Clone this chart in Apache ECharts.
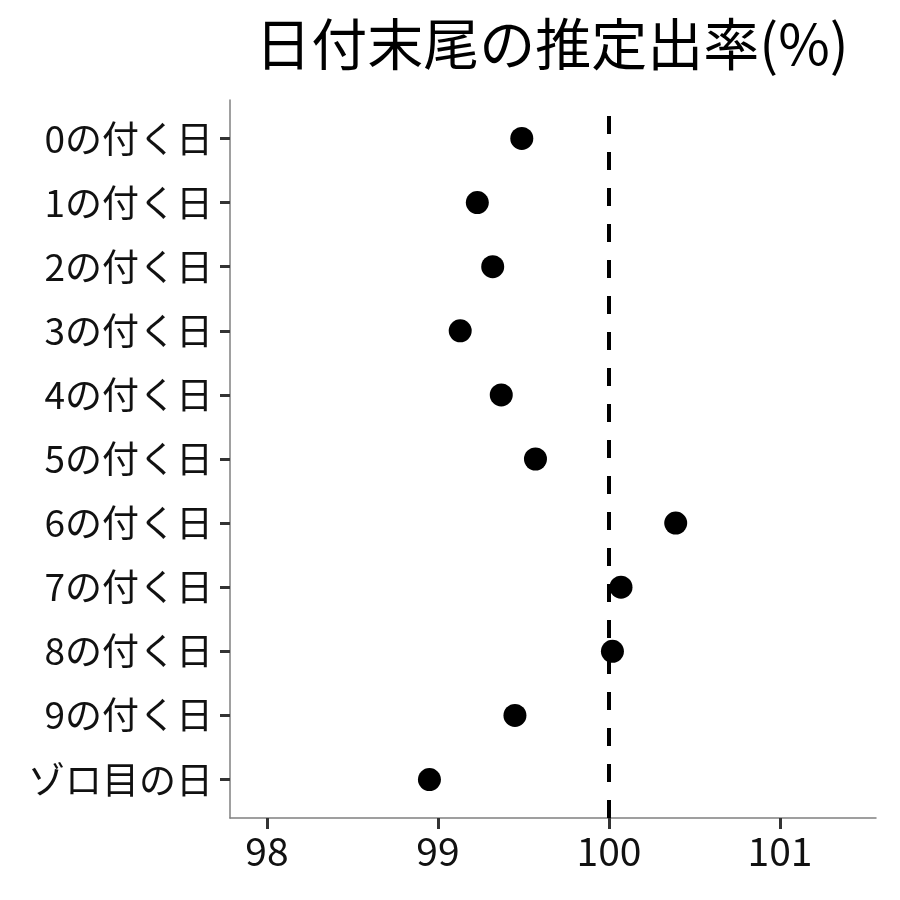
<!DOCTYPE html>
<html>
<head>
<meta charset="utf-8">
<script src="https://cdn.jsdelivr.net/npm/echarts@6/dist/echarts.min.js"></script>
<style>
  html, body { margin: 0; padding: 0; background: #fff; }
  #chart { width: 900px; height: 900px; }
</style>
</head>
<body>
<div id="chart"></div>
<script>
const categories = ["0の付く日", "1の付く日", "2の付く日", "3の付く日", "4の付く日",
  "5の付く日", "6の付く日", "7の付く日", "8の付く日", "9の付く日", "ゾロ目の日"]
const rates = [99.49, 99.23, 99.32, 99.13, 99.37, 99.57, 100.39, 100.07, 100.02, 99.45, 98.95]
const xTicks = [98, 99, 100, 101]
const refLine = 100

const font = "'Noto Sans CJK JP', 'Noto Sans', sans-serif"
// rows numbered 1..n from the bottom, so the first category sits at the top
const n = categories.length
const points = rates.map((v, i) => [v, n - i])
const yTicks = categories.map((c, i) => i + 1)
const xMin = 97.784
const xMax = 101.561

let myChart = echarts.init(document.getElementById("chart"))
myChart.setOption({
  animation: false,
  title: {
    text: "日付末尾の推定出率(%)",
    left: 547,
    top: 11,
    textAlign: "center",
    textStyle: { fontFamily: font, fontSize: 56, fontWeight: "normal", color: "#000" },
  },
  grid: { left: 230, right: 24, top: 100, bottom: 82 },
  xAxis: [
    {
      type: "value",
      min: xMin,
      max: xMax,
      axisLine: { show: true, lineStyle: { color: "#808080", width: 1.5 } },
      axisTick: { show: false },
      axisLabel: {
        customValues: xTicks,
        margin: 14,
        fontFamily: font,
        fontSize: 39,
        color: "#111",
      },
      splitLine: { show: false },
    },
    {
      // ticks only: outward ticks got cut off, so move an axis down and point them up
      type: "value",
      position: "bottom",
      offset: 11,
      min: xMin,
      max: xMax,
      axisLine: { show: false },
      axisTick: {
        show: true,
        inside: true,
        customValues: xTicks,
        length: 11,
        lineStyle: { color: "#333", width: 3 },
      },
      axisLabel: { show: false },
      splitLine: { show: false },
    },
  ],
  yAxis: {
    type: "value",
    min: 0.4,
    max: 11.6,
    axisLine: { show: true, lineStyle: { color: "#808080", width: 1.5 } },
    axisTick: { show: true, customValues: yTicks, length: 10, lineStyle: { color: "#333", width: 3 } },
    axisLabel: {
      customValues: yTicks,
      margin: 17,
      fontFamily: font,
      fontSize: 37,
      color: "#111",
      formatter: (v) => categories[n - Math.round(v)],
    },
    splitLine: { show: false },
  },
  series: [
    {
      type: "scatter",
      xAxisIndex: 0,
      data: points,
      symbolSize: 23,
      itemStyle: { color: "#000", opacity: 1 },
      markLine: {
        silent: true,
        symbol: "none",
        label: { show: false },
        lineStyle: { color: "#000", width: 4, type: [18, 18], opacity: 1 },
        data: [{ xAxis: refLine }],
      },
    },
  ],
})
</script>
</body>
</html>
